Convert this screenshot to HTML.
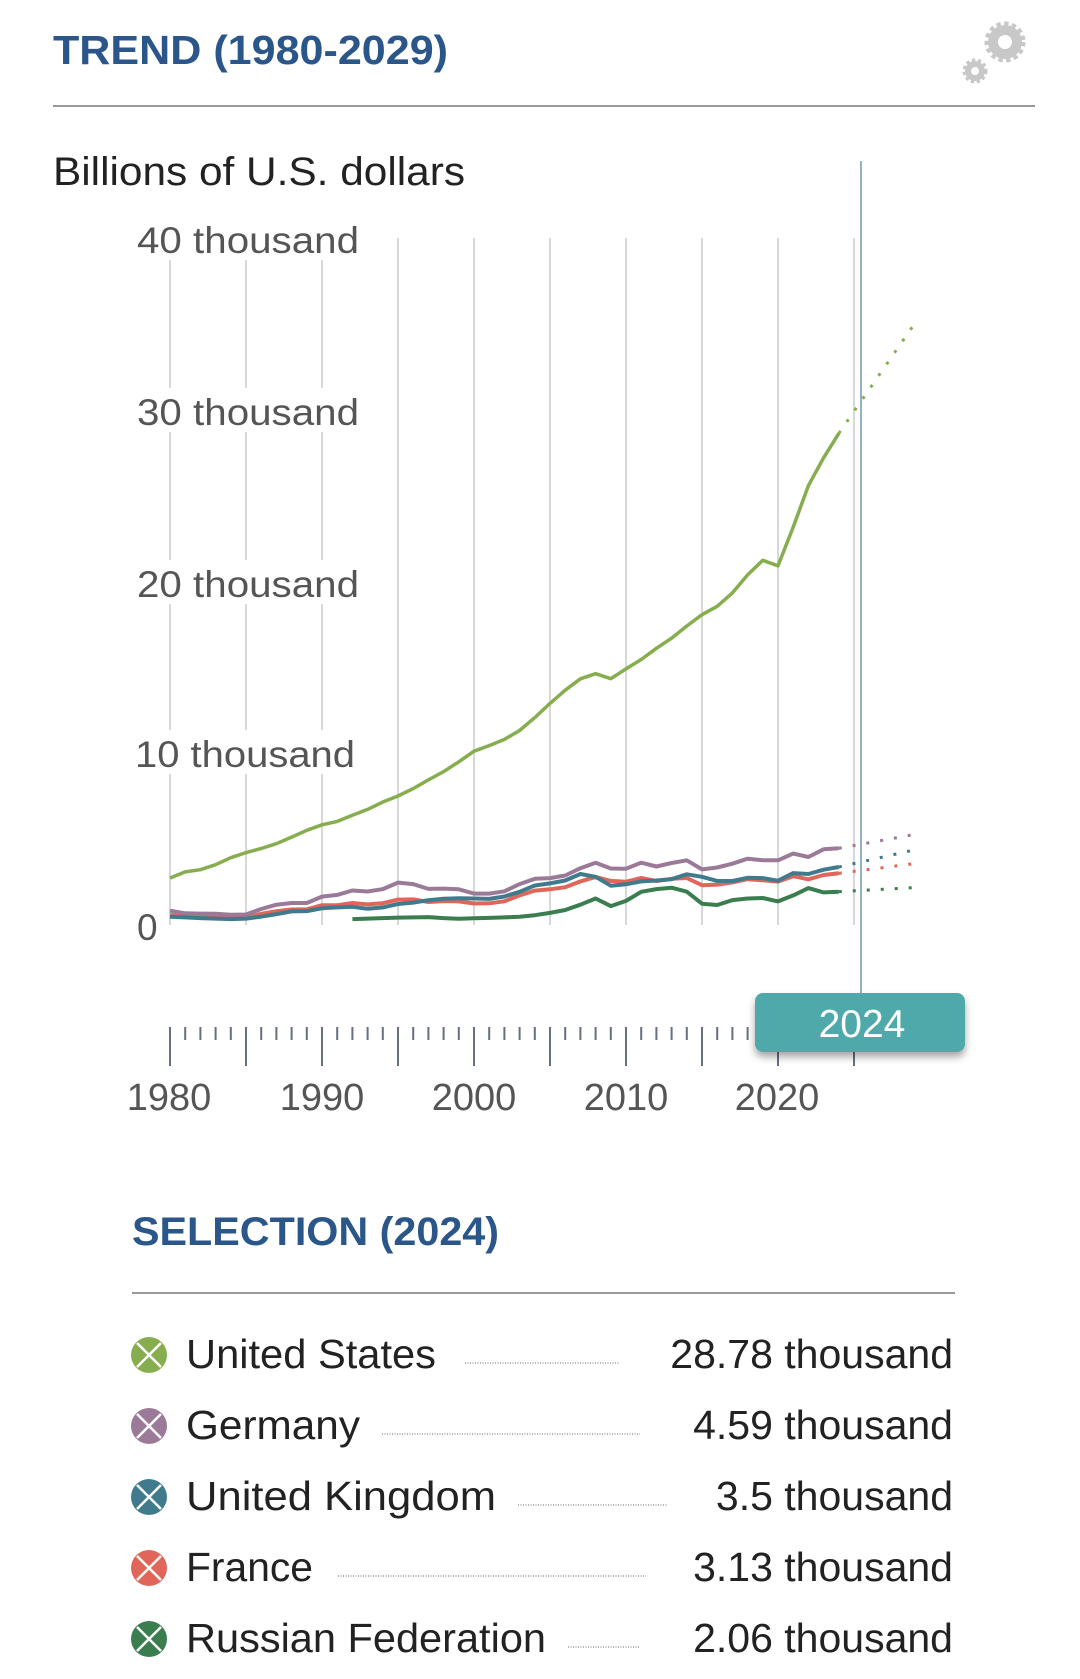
<!DOCTYPE html>
<html><head><meta charset="utf-8">
<style>
html,body{margin:0;padding:0;background:#fff;}
body{width:1080px;height:1679px;position:relative;overflow:hidden;font-family:"Liberation Sans",sans-serif;}
svg{position:absolute;left:0;top:0;}
</style></head>
<body>
<svg id="s" width="1080" height="1679" viewBox="0 0 1080 1679" xmlns="http://www.w3.org/2000/svg" font-family="Liberation Sans, sans-serif">
<text x="53" y="64" font-size="41" font-weight="bold" fill="#2a5689" textLength="395" lengthAdjust="spacingAndGlyphs">TREND (1980-2029)</text>
<g fill="#c8c8c8">
<circle cx="1005" cy="42" r="17" stroke="#c8c8c8" stroke-width="7" stroke-dasharray="4 3.2"/>
<circle cx="1005" cy="42" r="7" fill="#fff"/>
<circle cx="975" cy="71" r="10" stroke="#c8c8c8" stroke-width="5" stroke-dasharray="3 2.5"/>
<circle cx="975" cy="71" r="4" fill="#fff"/>
</g>
<line x1="53" y1="106" x2="1035" y2="106" stroke="#999" stroke-width="2"/>
<text x="53" y="185" font-size="40" fill="#222" textLength="412" lengthAdjust="spacingAndGlyphs">Billions of U.S. dollars</text>
<g id="grid" stroke="#d8d8d8" stroke-width="2"></g>
<g font-size="37" fill="#555">
<rect x="130" y="216" width="236" height="44" fill="#fff"/>
<text x="137" y="253" textLength="222" lengthAdjust="spacingAndGlyphs">40 thousand</text>
<rect x="130" y="388" width="236" height="44" fill="#fff"/>
<text x="137" y="425" textLength="222" lengthAdjust="spacingAndGlyphs">30 thousand</text>
<rect x="130" y="560" width="236" height="44" fill="#fff"/>
<text x="137" y="597" textLength="222" lengthAdjust="spacingAndGlyphs">20 thousand</text>
<rect x="130" y="730" width="236" height="44" fill="#fff"/>
<text x="135" y="767" textLength="220" lengthAdjust="spacingAndGlyphs">10 thousand</text>
<rect x="130" y="903" width="36" height="44" fill="#fff"/>
<text x="137" y="940">0</text>
</g>
<g id="series"></g>
<line x1="861" y1="161" x2="861" y2="1000" stroke="#6a9ab0" stroke-width="1.5"/>
<g id="ticks" stroke="#666e80" stroke-width="2"></g>
<g font-size="38" fill="#555" text-anchor="middle">
<text x="169" y="1110">1980</text><text x="322" y="1110">1990</text><text x="474" y="1110">2000</text><text x="626" y="1110">2010</text><text x="777" y="1110">2020</text>
</g>
<defs><filter id="sh" x="-20%" y="-20%" width="140%" height="160%"><feDropShadow dx="0" dy="5" stdDeviation="4" flood-color="#000" flood-opacity="0.35"/></filter></defs>
<rect x="755" y="993" width="210" height="59" rx="8" fill="#4fa9aa" filter="url(#sh)"/>
<text x="862" y="1037" font-size="39" fill="#fff" text-anchor="middle">2024</text>
<text x="132" y="1245" font-size="40" font-weight="bold" fill="#2a5689" textLength="367" lengthAdjust="spacingAndGlyphs">SELECTION (2024)</text>
<line x1="132" y1="1293" x2="955" y2="1293" stroke="#999" stroke-width="2"/>
<g id="legend" font-size="41" fill="#222"></g>
</svg>
<script>
var NS="http://www.w3.org/2000/svg";
function el(t,a,p){var e=document.createElementNS(NS,t);for(var k in a)e.setAttribute(k,a[k]);p.appendChild(e);return e;}
function X(y){return 170+(y-1980)*15.2;}
function Y(v){return 927-v*17.15;}
var g=document.getElementById('grid');
for(var yr=1980;yr<=2025;yr+=5){el('line',{x1:X(yr),y1:238,x2:X(yr),y2:925},g);}
var t=document.getElementById('ticks');
for(var yr=1980;yr<=2025;yr++){var maj=yr%5==0;el('line',{x1:X(yr),y1:1027,x2:X(yr),y2:maj?1066:1040},t);}
var S=[
{c:'#86ad4e',w:3.5,s:1980,d:[2.86,3.21,3.34,3.63,4.04,4.34,4.58,4.86,5.24,5.64,5.96,6.16,6.52,6.86,7.29,7.64,8.07,8.58,9.06,9.63,10.25,10.58,10.94,11.46,12.21,13.04,13.81,14.47,14.77,14.48,15.05,15.6,16.25,16.84,17.55,18.21,18.7,19.48,20.53,21.38,21.06,23.32,25.74,27.36,28.78],f:35.2},
{c:'#3a7d4f',w:4,s:1992,d:[0.46,0.49,0.52,0.55,0.56,0.58,0.52,0.48,0.51,0.53,0.56,0.6,0.69,0.82,0.99,1.3,1.66,1.22,1.52,2.05,2.21,2.29,2.06,1.36,1.28,1.57,1.66,1.69,1.49,1.84,2.27,2.02,2.06],f:2.3},
{c:'#e0665a',w:4,s:1980,d:[0.7,0.62,0.6,0.57,0.54,0.56,0.77,0.92,1.02,1.03,1.27,1.27,1.4,1.32,1.39,1.6,1.61,1.46,1.51,1.49,1.37,1.38,1.5,1.84,2.12,2.2,2.32,2.66,2.92,2.69,2.64,2.86,2.68,2.81,2.86,2.44,2.47,2.6,2.79,2.73,2.65,2.96,2.78,3.03,3.13],f:3.7},
{c:'#3f7b8c',w:4,s:1980,d:[0.6,0.56,0.52,0.49,0.46,0.49,0.6,0.75,0.91,0.93,1.09,1.14,1.18,1.06,1.14,1.34,1.42,1.56,1.65,1.68,1.66,1.64,1.78,2.05,2.42,2.54,2.71,3.09,2.93,2.41,2.49,2.66,2.71,2.79,3.07,2.93,2.69,2.68,2.87,2.85,2.7,3.14,3.09,3.34,3.5],f:4.5},
{c:'#9b7a98',w:4,s:1980,d:[0.95,0.8,0.78,0.77,0.72,0.73,1.05,1.3,1.4,1.4,1.77,1.87,2.13,2.07,2.21,2.59,2.5,2.22,2.24,2.2,1.95,1.95,2.08,2.5,2.81,2.85,3.0,3.43,3.75,3.41,3.4,3.75,3.53,3.73,3.89,3.36,3.47,3.69,3.98,3.89,3.89,4.28,4.08,4.53,4.59],f:5.4}
];
var sg=document.getElementById('series');
S.forEach(function(s){
 var p='';s.d.forEach(function(v,i){p+=(i?'L':'M')+X(s.s+i).toFixed(1)+' '+Y(v).toFixed(1);});
 el('path',{d:p,fill:'none',stroke:s.c,'stroke-width':s.w,'stroke-linejoin':'round'},sg);
 var last=s.d[s.d.length-1];
 el('path',{d:'M'+X(2024)+' '+Y(last)+'L'+X(2029)+' '+Y(s.f),fill:'none',stroke:s.c,'stroke-width':3,'stroke-dasharray':'3 11'},sg);
});
var L=[['United States','28.78 thousand','#86ad4e',445,620,250],['Germany','4.59 thousand','#9b7a98',362,640,174],['United Kingdom','3.5 thousand','#3f7b8c',498,668,310],['France','3.13 thousand','#e0665a',318,646,127],['Russian Federation','2.06 thousand','#3a7d4f',548,640,360]];
var lg=document.getElementById('legend');
L.forEach(function(r,i){
 var cy=1355+i*71;
 el('circle',{cx:149,cy:cy,r:18,fill:r[2]},lg);
 el('path',{d:'M137 '+(cy-12)+'L161 '+(cy+12)+'M161 '+(cy-12)+'L137 '+(cy+12),stroke:'#fff','stroke-width':2.5},lg);
 var a=el('text',{x:186,y:cy+13,textLength:r[5]*1.0,lengthAdjust:'spacingAndGlyphs'},lg);a.textContent=r[0];
 var b=el('text',{x:953,y:cy+13,'text-anchor':'end'},lg);b.textContent=r[1];
 el('line',{x1:r[3]+20,y1:cy+8,x2:r[4],y2:cy+8,stroke:'#999','stroke-width':1.5,'stroke-dasharray':'1 1.5'},lg);
});
</script>
</body></html>
